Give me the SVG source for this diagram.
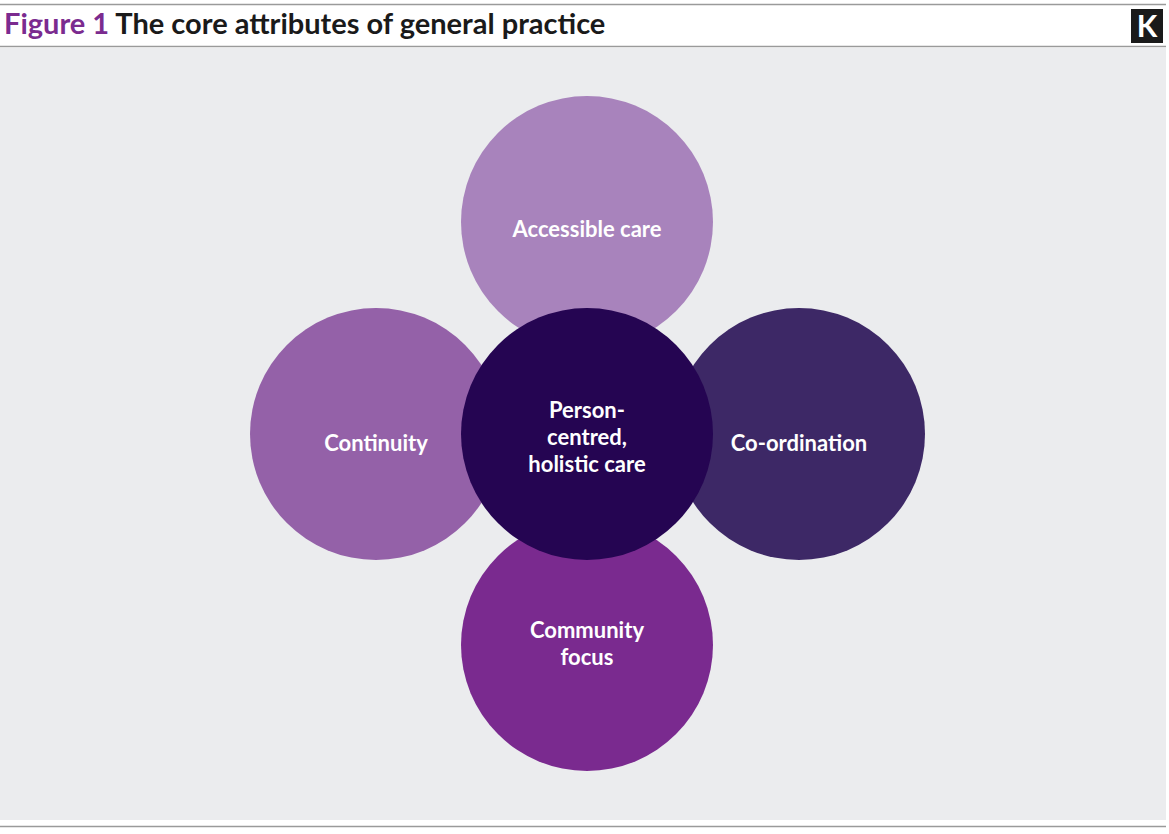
<svg xmlns="http://www.w3.org/2000/svg" width="1169" height="834" viewBox="0 0 1169 834">
<style>
.t{font-family:"Lato","Liberation Sans",sans-serif;font-weight:bold;font-size:22px;fill:#fff;text-anchor:middle}
.h{font-family:"Lato","Liberation Sans",sans-serif;font-weight:bold;font-size:29px}
</style>
<rect width="1169" height="834" fill="#fff"/>
<line x1="0" y1="4.5" x2="1166" y2="4.5" stroke="#9a9a9a" stroke-width="1.5"/>
<text x="4" y="34" class="h"><tspan fill="#7b2b8f">Figure 1</tspan><tspan fill="#1a1a1a"> The core attributes of general practice</tspan></text>
<g id="logo"><rect x="1131" y="9" width="32" height="34" fill="#1a1a1a"/><text x="1147" y="37" font-family="Lato,'Liberation Sans',sans-serif" font-weight="bold" font-size="30" fill="#fff" text-anchor="middle">K</text></g>
<line x1="0" y1="46.5" x2="1166" y2="46.5" stroke="#9a9a9a" stroke-width="1.5"/>
<rect x="0" y="48" width="1166" height="772" fill="#ebecee"/>
<line x1="0" y1="826.5" x2="1166" y2="826.5" stroke="#9a9a9a" stroke-width="1.5"/>
<g id="connectors"></g>
<g id="accessible"><circle cx="587" cy="222" r="126" fill="#a883bc"/><text x="587" y="237" class="t">Accessible care</text></g>
<g id="continuity"><circle cx="376" cy="434" r="126" fill="#9461a8"/><text x="376" y="451" class="t">Continuity</text></g>
<g id="coordination"><circle cx="799" cy="434" r="126" fill="#3d2866"/><text x="799" y="451" class="t">Co-ordination</text></g>
<g id="community"><circle cx="587" cy="645" r="126" fill="#7a2a8f"/><text x="587" y="638" class="t">Community</text><text x="587" y="665" class="t">focus</text></g>
<g id="center"><circle cx="587" cy="434" r="126" fill="#250552"/><text x="587" y="418" class="t">Person-</text><text x="587" y="445" class="t">centred,</text><text x="587" y="472" class="t">holistic care</text></g>
</svg>
